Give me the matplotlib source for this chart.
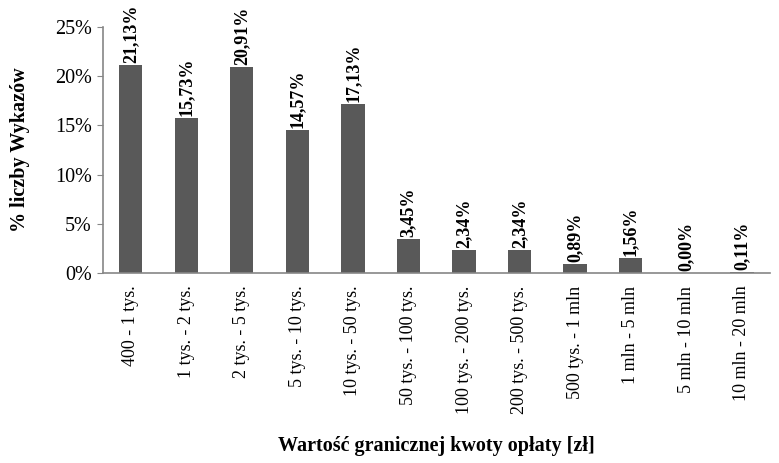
import matplotlib.pyplot as plt
import numpy as np

plt.rcParams['font.family'] = ['Liberation Serif', 'DejaVu Serif']
plt.rcParams['font.size'] = 13

categories = ['400 - 1 tys.', '1 tys. - 2 tys.', '2 tys. - 5 tys.', '5 tys. - 10 tys.',
              '10 tys. - 50 tys.', '50 tys. - 100 tys.', '100 tys. - 200 tys.',
              '200 tys. - 500 tys.', '500 tys. - 1 mln', '1 mln - 5 mln',
              '5 mln - 10 mln', '10 mln - 20 mln']
values = [21.13, 15.73, 20.91, 14.57, 17.13, 3.45, 2.34, 2.34, 0.89, 1.56, 0.00, 0.11]

fig = plt.figure(figsize=(7.79, 4.63), dpi=100)
ax = fig.add_axes([0.132, 0.410, 0.856, 0.532])

x = np.arange(len(categories))
bars = ax.bar(x, values, width=0.42, color='#595959')

for xi, v in zip(x, values):
    ax.text(xi, v + 0.2, f'{v:.2f}%'.replace('.', ','), rotation=90, ha='center', va='bottom',
            fontweight='bold', fontsize=13, clip_on=False)

ax.set_xlim(-0.5, len(categories) - 0.5)
ax.set_ylim(0, 25)
ax.set_yticks(np.arange(0, 26, 5))
ax.set_yticklabels([f'{t}%' for t in range(0, 26, 5)], fontsize=14.5)
ax.set_xticks(x)
ax.set_xticklabels(categories, rotation=90, fontsize=13)
ax.tick_params(axis='x', length=0, pad=9)
ax.tick_params(axis='y', length=4, color='#868686', direction='out', pad=4)

for s in ['top', 'right']:
    ax.spines[s].set_visible(False)
for s in ['left', 'bottom']:
    ax.spines[s].set_color('#868686')
    ax.spines[s].set_linewidth(1.2)

ax.set_ylabel('% liczby Wykazów', fontweight='bold', fontsize=14.5, labelpad=18)
ax.set_xlabel('Wartość granicznej kwoty opłaty [zł]', fontweight='bold', fontsize=14.5, labelpad=16)

fig.savefig('out.png', dpi=100)
